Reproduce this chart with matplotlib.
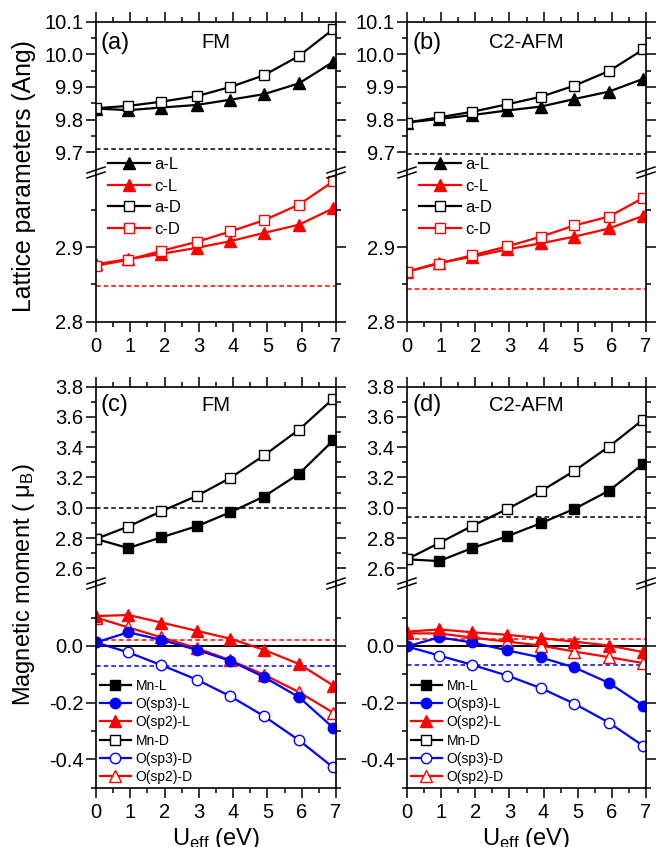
import matplotlib
matplotlib.use('Agg')
import matplotlib.pyplot as plt
from matplotlib.ticker import FixedLocator, FormatStrFormatter, MultipleLocator
from matplotlib.lines import Line2D

plt.rcParams['font.family'] = ['Liberation Sans', 'DejaVu Sans']
plt.rcParams['mathtext.fontset'] = 'custom'
plt.rcParams['mathtext.rm'] = 'Liberation Sans'
plt.rcParams['mathtext.it'] = 'Liberation Sans:italic'
plt.rcParams['axes.unicode_minus'] = False

# U_eff values (eV)
U = [0, 0.94, 1.91, 2.94, 3.92, 4.90, 5.92, 6.92]

# (a) FM lattice parameters
fm_aL = [9.834, 9.829, 9.837, 9.845, 9.861, 9.878, 9.911, 9.977]
fm_aD = [9.835, 9.842, 9.855, 9.872, 9.900, 9.936, 9.995, 10.077]
fm_cL = [2.877, 2.884, 2.891, 2.899, 2.908, 2.919, 2.930, 2.952]
fm_cD = [2.875, 2.883, 2.895, 2.907, 2.921, 2.936, 2.957, 2.988]
fm_a_ref, fm_c_ref = 9.71, 2.848

# (b) C2-AFM lattice parameters
af_aL = [9.791, 9.802, 9.814, 9.828, 9.840, 9.863, 9.886, 9.925]
af_aD = [9.791, 9.807, 9.824, 9.847, 9.870, 9.904, 9.949, 10.015]
af_cL = [2.867, 2.879, 2.887, 2.897, 2.905, 2.914, 2.925, 2.942]
af_cD = [2.867, 2.878, 2.889, 2.901, 2.914, 2.929, 2.941, 2.966]
af_a_ref, af_c_ref = 9.694, 2.844

# (c) FM magnetic moments
fm_MnL = [2.794, 2.734, 2.805, 2.878, 2.970, 3.074, 3.224, 3.444]
fm_MnD = [2.794, 2.876, 2.977, 3.078, 3.197, 3.345, 3.515, 3.720]
fm_sp3L = [0.012, 0.048, 0.021, -0.014, -0.053, -0.110, -0.181, -0.289]
fm_sp2L = [0.105, 0.109, 0.082, 0.053, 0.025, -0.014, -0.064, -0.140]
fm_sp3D = [0.012, -0.023, -0.068, -0.119, -0.178, -0.248, -0.333, -0.429]
fm_sp2D = [0.100, 0.065, 0.030, -0.008, -0.051, -0.102, -0.163, -0.236]
fm_Mn_ref, fm_sp2_ref, fm_sp3_ref = 2.995, 0.021, -0.070

# (d) C2-AFM magnetic moments
af_MnL = [2.660, 2.648, 2.734, 2.812, 2.898, 2.992, 3.113, 3.290]
af_MnD = [2.660, 2.767, 2.880, 2.992, 3.109, 3.243, 3.404, 3.582]
af_sp3L = [-0.002, 0.030, 0.012, -0.016, -0.041, -0.076, -0.131, -0.211]
af_sp2L = [0.050, 0.058, 0.048, 0.039, 0.027, 0.015, 0.001, -0.022]
af_sp3D = [-0.002, -0.034, -0.067, -0.105, -0.149, -0.204, -0.271, -0.353]
af_sp2D = [0.044, 0.044, 0.029, 0.015, 0.001, -0.020, -0.040, -0.061]
af_Mn_ref, af_sp2_ref, af_sp3_ref = 2.937, 0.023, -0.069

W, H = 656, 847
fig = plt.figure(figsize=(W / 100, H / 100), dpi=100)


def add_ax(l, t, r, b):
    return fig.add_axes([l / W, 1 - b / H, (r - l) / W, (b - t) / H])


def style(ax, part, major, minor):
    for s in ax.spines.values():
        s.set_linewidth(1.2)
    ax.set_xlim(0, 7)
    ax.xaxis.set_major_locator(MultipleLocator(1))
    ax.xaxis.set_minor_locator(MultipleLocator(0.5))
    ax.yaxis.set_major_locator(FixedLocator(major))
    ax.yaxis.set_minor_locator(FixedLocator(minor))
    ax.yaxis.set_major_formatter(FormatStrFormatter('%.1f'))
    ax.tick_params(which='both', direction='out', width=1.1, left=True, right=True,
                   labelsize=14.5, pad=2)
    ax.tick_params(axis='x', pad=4)
    ax.tick_params(which='major', length=7)
    ax.tick_params(which='minor', length=3.5)
    if part == 'top':
        ax.spines['bottom'].set_visible(False)
        ax.tick_params(which='both', top=True, bottom=False, labelbottom=False)
    else:
        ax.spines['top'].set_visible(False)
        ax.tick_params(which='both', top=False, bottom=True)


def brk(x, y):
    for d in (-2.5, 2.5):
        fig.add_artist(Line2D([(x - 9) / W, (x + 9) / W],
                              [1 - (y + 3 + d) / H, 1 - (y - 3 + d) / H],
                              color='k', lw=1.1))


ms_sq, ms_tri, ms_c = 7.5, 8.5, 7.5
lw = 1.6

# ---------------- lattice panels ----------------
lat = [(96, 336, '(a)', 'FM', fm_aL, fm_aD, fm_cL, fm_cD, fm_a_ref, fm_c_ref),
       (407, 646, '(b)', 'C2-AFM', af_aL, af_aD, af_cL, af_cD, af_a_ref, af_c_ref)]
for l, r, tag, name, aL, aD, cL, cD, aref, cref in lat:
    top = add_ax(l, 21.7, r, 172.5)
    bot = add_ax(l, 172.5, r, 321.7)
    top.set_ylim(9.638, 10.1)
    bot.set_ylim(2.8, 3.0)
    style(top, 'top', [9.7, 9.8, 9.9, 10.0, 10.1], [9.75, 9.85, 9.95, 10.05])
    style(bot, 'bot', [2.8, 2.9], [2.85, 2.95])
    top.axhline(aref, color='k', ls=(0, (3, 2)), lw=1.1)
    bot.axhline(cref, color='r', ls=(0, (3, 2)), lw=1.1)
    h1, = top.plot(U, aL, '-^', color='k', lw=lw, ms=ms_tri, label='a-L')
    h3, = top.plot(U, aD, '-s', color='k', lw=lw, ms=ms_sq, mfc='white', mec='k', mew=1, label='a-D')
    h2, = bot.plot(U, cL, '-^', color='r', lw=lw, ms=ms_tri, label='c-L')
    h4, = bot.plot(U, cD, '-s', color='r', lw=lw, ms=ms_sq, mfc='white', mec='r', mew=1, label='c-D')
    bot.legend([h1, h2, h3, h4], ['a-L', 'c-L', 'a-D', 'c-D'], loc='upper left',
               bbox_to_anchor=((l + 12) / W, 1 - 157 / H), bbox_transform=fig.transFigure,
               frameon=False, fontsize=12, handlelength=2.5, handletextpad=0.3,
               labelspacing=0.4, borderpad=0, borderaxespad=0)
    brk(l, 172.5)
    brk(r, 172.5)
    fig.text((l + 5) / W, 1 - 43 / H, tag, fontsize=17, ha='left', va='center')
    fig.text((l + r) / 2 / W, 1 - 43 / H, name, fontsize=14.5, ha='center', va='center')

# ---------------- magnetic moment panels ----------------
mag = [(96, 336, '(c)', 'FM', fm_MnL, fm_MnD, fm_sp3L, fm_sp2L, fm_sp3D, fm_sp2D,
        fm_Mn_ref, fm_sp2_ref, fm_sp3_ref),
       (407, 646, '(d)', 'C2-AFM', af_MnL, af_MnD, af_sp3L, af_sp2L, af_sp3D, af_sp2D,
        af_Mn_ref, af_sp2_ref, af_sp3_ref)]
for l, r, tag, name, MnL, MnD, s3L, s2L, s3D, s2D, mref, s2ref, s3ref in mag:
    top = add_ax(l, 386.5, r, 583.5)
    bot = add_ax(l, 583.5, r, 787.6)
    top.set_ylim(2.5, 3.8)
    bot.set_ylim(-0.5, 0.22)
    style(top, 'top', [2.6, 2.8, 3.0, 3.2, 3.4, 3.6, 3.8], [2.7, 2.9, 3.1, 3.3, 3.5, 3.7])
    style(bot, 'bot', [-0.4, -0.2, 0.0], [-0.5, -0.3, -0.1, 0.1])
    top.axhline(mref, color='k', ls=(0, (3, 2)), lw=1.1)
    bot.axhline(0, color='k', lw=1.4)
    bot.axhline(s2ref, color='r', ls=(0, (3, 2)), lw=1.1)
    bot.axhline(s3ref, color='b', ls=(0, (3, 2)), lw=1.1)
    g1, = top.plot(U, MnL, '-s', color='k', lw=lw, ms=ms_sq)
    g4, = top.plot(U, MnD, '-s', color='k', lw=lw, ms=ms_sq, mfc='white', mec='k', mew=1)
    g5, = bot.plot(U, s3D, '-o', color='b', lw=lw, ms=ms_c, mfc='white', mec='b', mew=1)
    g6, = bot.plot(U, s2D, '-^', color='r', lw=lw, ms=ms_tri, mfc='white', mec='r', mew=1)
    g2, = bot.plot(U, s3L, '-o', color='b', lw=lw, ms=ms_c)
    g3, = bot.plot(U, s2L, '-^', color='r', lw=lw, ms=ms_tri)
    bot.legend([g1, g2, g3, g4, g5, g6],
               ['Mn-L', 'O(sp3)-L', 'O(sp2)-L', 'Mn-D', 'O(sp3)-D', 'O(sp2)-D'],
               loc='upper left', bbox_to_anchor=((l + 4) / W, 1 - 679 / H),
               bbox_transform=fig.transFigure, frameon=False, fontsize=10,
               handlelength=2.2, handletextpad=0.35, labelspacing=0.3,
               borderpad=0, borderaxespad=0)
    brk(l, 583.5)
    brk(r, 583.5)
    fig.text((l + 5) / W, 1 - 405 / H, tag, fontsize=17, ha='left', va='center')
    fig.text((l + r) / 2 / W, 1 - 405 / H, name, fontsize=14.5, ha='center', va='center')
    fig.text((l + r) / 2 / W, 1 - 826 / H, r'U$_{\rm eff}$ (eV)', fontsize=17,
             ha='center', va='top')

fig.text(24 / W, 1 - 176 / H, 'Lattice parameters (Ang)', rotation=90, fontsize=17.8,
         ha='center', va='center')
fig.text(24 / W, 1 - 585 / H, 'Magnetic moment ( μ$_{\\rm B}$)', rotation=90, fontsize=17,
         ha='center', va='center')

fig.savefig('out.png', dpi=100)
